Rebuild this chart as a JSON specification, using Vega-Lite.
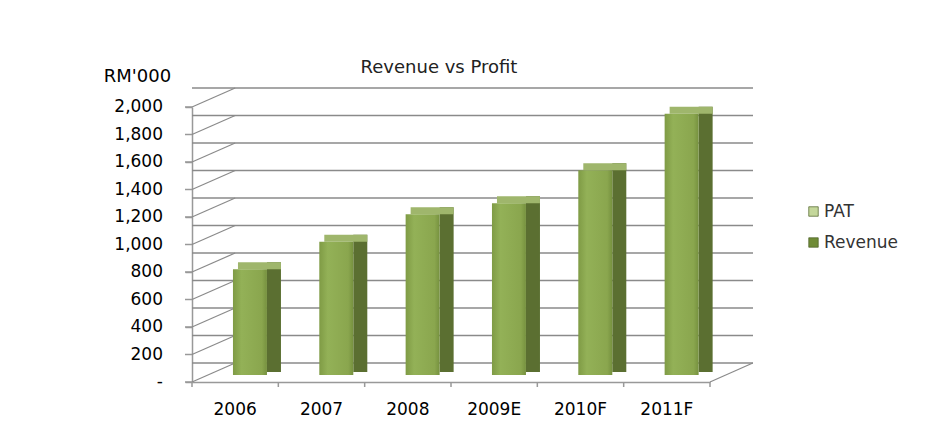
{
  "$schema": "https://vega.github.io/schema/vega-lite/v6.json",
  "width": 518,
  "height": 275,
  "autosize": "none",
  "padding": {"left": 192, "top": 107, "right": 219, "bottom": 48},
  "background": "white",
  "config": {"view": {"stroke": null}, "font": "DejaVu Sans"},
  "title": {"text": "Revenue vs Profit", "anchor": "middle", "frame": "group", "fontSize": 18, "fontWeight": "normal", "color": "#222", "dx": -12, "dy": 20, "offset": 10},
  "datasets": {
    "rev": [
      {"year": "2006", "value": 770, "series": "Revenue"},
      {"year": "2007", "value": 970, "series": "Revenue"},
      {"year": "2008", "value": 1170, "series": "Revenue"},
      {"year": "2009E", "value": 1250, "series": "Revenue"},
      {"year": "2010F", "value": 1490, "series": "Revenue"},
      {"year": "2011F", "value": 1900, "series": "Revenue"}
    ],
    "grid": [
      {"v": 0, "label": "-"}, {"v": 200, "label": "200"}, {"v": 400, "label": "400"},
      {"v": 600, "label": "600"}, {"v": 800, "label": "800"}, {"v": 1000, "label": "1,000"},
      {"v": 1200, "label": "1,200"}, {"v": 1400, "label": "1,400"}, {"v": 1600, "label": "1,600"},
      {"v": 1800, "label": "1,800"}, {"v": 2000, "label": "2,000"}
    ],
    "floor": [{"v": 0}]
  },
  "layer": [
    {
      "data": {"name": "grid"},
      "mark": {"type": "rule", "color": "#8a8a8a", "strokeWidth": 1.5, "xOffset": 43, "yOffset": -19},
      "encoding": {
        "y": {
          "field": "v", "type": "quantitative", "scale": {"domain": [0, 2000], "nice": false},
          "axis": {
            "values": [0, 200, 400, 600, 800, 1000, 1200, 1400, 1600, 1800, 2000],
            "labels": false,
            "grid": false, "title": "RM'000", "titleAngle": 0, "titleX": -55, "titleY": -26,
            "titleAlign": "center", "titleBaseline": "alphabetic", "titleFontSize": 18, "titleFontWeight": "normal", "titleColor": "#000",
            "tickSize": 7,
            "domainColor": "#999", "domainWidth": 1.5, "tickColor": "#999", "tickWidth": 1.5
          }
        }
      }
    },
    {
      "data": {"name": "grid"},
      "mark": {"type": "rule", "color": "#8a8a8a", "strokeWidth": 1.2, "y2Offset": -19},
      "encoding": {
        "x": {"datum": "2006", "type": "nominal", "bandPosition": 0},
        "x2": {"datum": "2006"},
        "y": {"field": "v", "type": "quantitative"},
        "y2": {"field": "v"}
      }
    },
    {
      "data": {"name": "grid"},
      "mark": {"type": "rule", "color": "#999", "strokeWidth": 1.5, "xOffset": -7},
      "encoding": {
        "x": {"datum": "2006", "type": "nominal", "bandPosition": 0},
        "x2": {"datum": "2006", "bandPosition": 0},
        "y": {"field": "v", "type": "quantitative"}
      }
    },
    {
      "data": {"name": "grid"},
      "mark": {"type": "text", "align": "right", "baseline": "middle", "fontSize": 17, "color": "#000", "xOffset": -29},
      "encoding": {
        "x": {"datum": "2006", "type": "nominal", "bandPosition": 0},
        "y": {"field": "v", "type": "quantitative"},
        "text": {"field": "label"}
      }
    },
    {
      "data": {"name": "floor"},
      "mark": {"type": "rule", "color": "#8a8a8a", "strokeWidth": 1.2, "x2Offset": 86, "y2Offset": -19},
      "encoding": {
        "x": {"datum": "2011F", "type": "nominal", "bandPosition": 1},
        "x2": {"datum": "2011F"},
        "y": {"field": "v", "type": "quantitative"},
        "y2": {"field": "v"}
      }
    },
    {
      "data": {"name": "floor"},
      "mark": {"type": "rule", "color": "#999", "strokeWidth": 1.5, "y2Offset": 5},
      "encoding": {
        "x": {"datum": "2011F", "type": "nominal", "bandPosition": 1},
        "y": {"field": "v", "type": "quantitative"},
        "y2": {"field": "v"}
      }
    },
    {
      "data": {"name": "rev"},
      "mark": {"type": "rule", "color": "#999", "strokeWidth": 1.5, "y2Offset": 5},
      "encoding": {
        "x": {"field": "year", "type": "nominal", "bandPosition": 0},
        "y": {"datum": 0, "type": "quantitative"},
        "y2": {"datum": 0}
      }
    },
    {
      "data": {"name": "rev"},
      "mark": {"type": "bar", "width": 14, "xOffset": 38.8, "yOffset": -14, "y2Offset": -10, "fill": "#5b6f31"},
      "encoding": {
        "x": {"field": "year", "type": "nominal"},
        "y": {"field": "value", "type": "quantitative"},
        "y2": {"datum": 0}
      }
    },
    {
      "data": {"name": "rev"},
      "mark": {"type": "bar", "width": 43, "xOffset": 24.3, "yOffset": -14, "y2Offset": -7, "fill": "#9fb66c"},
      "encoding": {
        "x": {"field": "year", "type": "nominal"},
        "y": {"field": "value", "type": "quantitative"},
        "y2": {"field": "value"}
      }
    },
    {
      "data": {"name": "rev"},
      "mark": {
        "type": "bar", "width": 34, "xOffset": 14.8, "yOffset": -7, "y2Offset": -7,
        "fill": {"gradient": "linear", "x1": 0, "y1": 0, "x2": 1, "y2": 0,
          "stops": [
            {"offset": 0, "color": "#7f9b45"},
            {"offset": 0.25, "color": "#93b157"},
            {"offset": 0.85, "color": "#8aa64e"},
            {"offset": 1, "color": "#76913f"}
          ]}
      },
      "encoding": {
        "x": {
          "field": "year", "type": "nominal",
          "scale": {"domain": ["2006", "2007", "2008", "2009E", "2010F", "2011F"], "paddingInner": 0, "paddingOuter": 0},
          "axis": {"ticks": false, "labelAngle": 0, "labelAlign": "center", "title": null, "domainColor": "#999", "domainWidth": 1.5, "labelFontSize": 17, "labelColor": "#000", "labelPadding": 27}
        },
        "y": {"field": "value", "type": "quantitative"},
        "y2": {"datum": 0}
      }
    },
    {
      "data": {"name": "rev"},
      "mark": {"type": "bar", "width": 1},
      "encoding": {
        "x": {"field": "year", "type": "nominal"},
        "y": {"datum": 0, "type": "quantitative"},
        "y2": {"datum": 0},
        "color": {
          "field": "series", "type": "nominal",
          "scale": {"domain": ["PAT", "Revenue"], "range": ["#c4d79b", "#6f8b36"]},
          "legend": {"orient": "none", "legendX": 613, "legendY": 96, "title": null, "symbolType": "square", "symbolSize": 90, "labelFontSize": 17, "labelColor": "#333", "rowPadding": 13, "labelOffset": 2, "symbolStrokeColor": "#4a5e25", "symbolStrokeWidth": 0.7, "padding": 0}
        }
      }
    }
  ]
}
